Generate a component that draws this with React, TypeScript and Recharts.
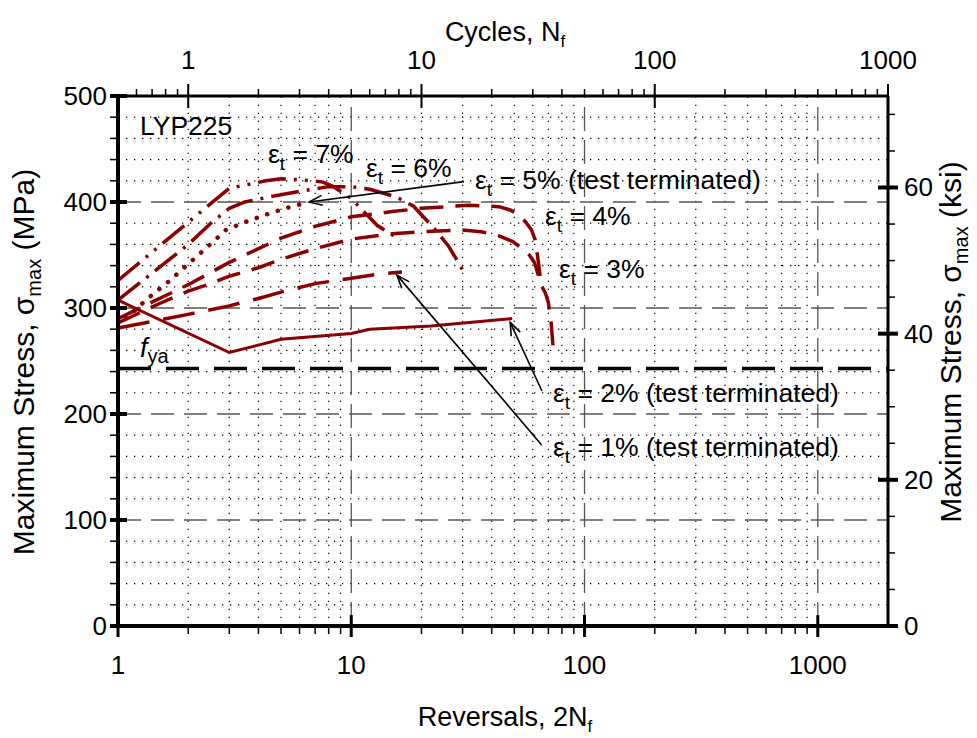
import { ComposedChart, Line, XAxis, YAxis, ReferenceLine } from 'recharts'

const FONT = '"Liberation Sans", Arial, Helvetica, sans-serif'
const RED = '#8b0000'
const MPA_PER_KSI = 6.894757

// maximum stress (MPa) against reversals 2Nf, one list per strain amplitude
const strain1: [number, number][] = [[1, 281], [2, 294], [3, 302], [4, 309], [5, 315], [7, 323], [10, 328], [13, 332], [16.5, 334]]
const strain2: [number, number][] = [[1, 307.5], [3, 258], [5, 270.5], [10, 276], [12, 280], [22, 283], [49, 290]]
const strain3: [number, number][] = [
  [1, 286], [1.5, 304], [2, 316], [2.5, 323], [3, 330], [4, 338], [5, 346], [7, 356], [10, 365], [15, 370], [20, 372],
  [30, 373.5], [36, 372], [43, 368], [49, 363], [54, 356], [58, 350], [61, 343], [63, 333], [65, 322], [68, 314], [70, 305],
  [72, 285], [73.5, 260],
]
const strain4: [number, number][] = [
  [1, 290], [2, 322], [3, 343], [5, 366], [7, 377], [10, 386], [15, 391], [20, 394], [32, 397], [43, 395.6], [48, 392.5],
  [52, 388], [56, 381], [59.3, 373.6], [61.5, 364], [63, 348], [64.5, 330],
]
const strain5: [number, number][] = [
  [1, 283], [1.34, 309], [1.64, 324.5], [2, 341.5], [2.4, 357], [2.9, 373.6], [3.5, 381], [4.3, 388], [5.2, 394], [6.6, 400],
]
const strain6: [number, number][] = [
  [1, 307.5], [1.5, 338], [2, 360], [2.5, 380], [3, 394], [3.5, 400], [4.5, 405], [6, 410], [8, 414.5], [10, 414.5],
  [12, 412], [15.5, 405], [18.5, 396], [22.7, 375], [26.2, 358], [30.4, 334],
]
const strain7: [number, number][] = [
  [1, 326], [3, 413], [3.5, 416], [4.3, 420], [5, 422], [6, 421], [7.5, 419], [8.3, 415], [10, 403.5], [10.8, 395.6],
  [11.7, 387.7], [12.9, 378], [16.3, 364],
]

// actual yield stress of LYP225
const FYA = 243

// annotation arrows: [tail, head] in (reversals, MPa)
const arrow5: [number, number][] = [[30.4, 419.2], [6.6, 400]]
const arrow2: [number, number][] = [[65.7, 221.7], [48, 286.5]]
const arrow1: [number, number][] = [[65.5, 170.8], [15.7, 331]]

// axis ticks
const revMajor = [1, 10, 100, 1000]
const revMinor = [2, 3, 4, 5, 6, 7, 8, 9, 20, 30, 40, 50, 60, 70, 80, 90, 200, 300, 400, 500, 600, 700, 800, 900]
const cycMajor = [1, 10, 100, 1000]
const cycMinor = [0.6, 0.7, 0.8, 0.9, 2, 3, 4, 5, 6, 7, 8, 9, 20, 30, 40, 50, 60, 70, 80, 90, 200, 300, 400, 500, 600, 700, 800, 900]
const cycSpan = [0.5, 1000]
const mpaMajor = [0, 100, 200, 300, 400, 500]
const mpaMinor = [20, 40, 60, 80, 120, 140, 160, 180, 220, 240, 260, 280, 320, 340, 360, 380, 420, 440, 460, 480]
const ksiMajor = [0, 20, 40, 60]
const ksiMinor = [5, 10, 15, 25, 30, 35, 45, 50, 55, 65, 70]

const pts = (rows: [number, number][]) => rows.map(([rev, mpa]) => ({ rev, mpa }))

function RevTick({ x, y, payload }: any) {
  const major = revMajor.includes(payload.value)
  return (
    <g>
      <line x1={x} x2={x} y1={major ? y - 11 : y} y2={y + (major ? 11 : 8)} stroke="#000" strokeWidth={major ? 3 : 1.5} />
      {major && (
        <text x={x} y={y + 48} textAnchor="middle" fontSize={26} fontFamily={FONT} fill="#000">
          {payload.value}
        </text>
      )}
    </g>
  )
}

function CycTick({ x, y, payload }: any) {
  const major = cycMajor.includes(payload.value)
  return (
    <g>
      <line x1={x} x2={x} y1={y - (major ? 12 : 7)} y2={major ? y + 12 : y} stroke="#000" strokeWidth={major ? 2 : 1.5} />
      {major && (
        <text x={x} y={y - 27} textAnchor="middle" fontSize={26} fontFamily={FONT} fill="#000">
          {payload.value}
        </text>
      )}
    </g>
  )
}

function MpaTick({ x, y, payload }: any) {
  const major = mpaMajor.includes(payload.value)
  return (
    <g>
      <line x1={x - 8} x2={major ? x + 9 : x} y1={y} y2={y} stroke="#000" strokeWidth={major ? 4 : 1.5} />
      {major && (
        <text x={x - 11} y={y + 9} textAnchor="end" fontSize={26} fontFamily={FONT} fill="#000">
          {payload.value}
        </text>
      )}
    </g>
  )
}

function KsiTick({ x, y, payload }: any) {
  const major = ksiMajor.includes(payload.value)
  return (
    <g>
      <line x1={major ? x - 10 : x} x2={x + (major ? 10 : 7)} y1={y} y2={y} stroke="#000" strokeWidth={major ? 4 : 1.5} />
      {major && (
        <text x={x + 16} y={y + 9} textAnchor="start" fontSize={26} fontFamily={FONT} fill="#000">
          {payload.value}
        </text>
      )}
    </g>
  )
}

// line with an open arrowhead at its second point
function ArrowShape(props: any) {
  const { x1, y1, x2, y2 } = props
  const ang = Math.atan2(y2 - y1, x2 - x1)
  const len = 14
  const spread = 0.36
  const h1 = [x2 - len * Math.cos(ang - spread), y2 - len * Math.sin(ang - spread)]
  const h2 = [x2 - len * Math.cos(ang + spread), y2 - len * Math.sin(ang + spread)]
  return (
    <g>
      <line x1={x1} y1={y1} x2={x2} y2={y2} stroke="#000" strokeWidth={1.6} />
      <polyline points={`${h1[0]},${h1[1]} ${x2},${y2} ${h2[0]},${h2[1]}`} fill="none" stroke="#000" strokeWidth={1.6} />
    </g>
  )
}

function Eps({ x, y, pct, note }: { x: number; y: number; pct: number; note?: boolean }) {
  return (
    <text x={x} y={y} fontSize={26.5} fontFamily={FONT} fill="#000">
      ε<tspan dy={7} fontSize={19}>t</tspan>
      <tspan dy={-7}>{` = ${pct}%${note ? ' (test terminated)' : ''}`}</tspan>
    </text>
  )
}

export default function App() {
  const lines = [
    { key: 'e1', data: strain1, dash: '32 14', width: 3.5, cap: 'butt' },
    { key: 'e2', data: strain2, dash: undefined, width: 3, cap: 'butt' },
    { key: 'e3', data: strain3, dash: '24 12', width: 3.5, cap: 'butt' },
    { key: 'e4', data: strain4, dash: '24 12', width: 3.5, cap: 'butt' },
    { key: 'e5', data: strain5, dash: '0.1 11', width: 4.5, cap: 'round' },
    { key: 'e6', data: strain6, dash: '28 8 3 8', width: 3.5, cap: 'butt' },
    { key: 'e7', data: strain7, dash: '28 8 3 8 3 8', width: 3.5, cap: 'butt' },
  ]

  return (
    <div style={{ position: 'absolute', left: 0, top: 0, width: 977, height: 738, background: '#fff' }}>
      <ComposedChart
        width={977}
        height={738}
        margin={{ top: 56, right: 49, bottom: 72, left: 78 }}
        style={{ fontFamily: FONT }}
      >
        <XAxis
          xAxisId="rev"
          dataKey="rev"
          type="number"
          scale="log"
          domain={[1, 2000]}
          allowDataOverflow
          ticks={[...revMajor, ...revMinor]}
          interval={0}
          tick={<RevTick />}
          tickLine={false}
          tickSize={0}
          tickMargin={0}
          height={40}
          axisLine={{ stroke: '#000', strokeWidth: 4 }}
        />
        <XAxis
          xAxisId="cyc"
          dataKey="cyc"
          orientation="top"
          type="number"
          scale="log"
          domain={[0.5, 1000]}
          allowDataOverflow
          ticks={[...cycMajor, ...cycMinor]}
          interval={0}
          tick={<CycTick />}
          tickLine={false}
          tickSize={0}
          tickMargin={0}
          height={40}
          axisLine={{ stroke: '#000', strokeWidth: 3 }}
        />
        <YAxis
          yAxisId="mpa"
          type="number"
          domain={[0, 500]}
          allowDataOverflow
          ticks={[...mpaMajor, ...mpaMinor]}
          interval={0}
          tick={<MpaTick />}
          tickLine={false}
          tickSize={0}
          tickMargin={0}
          width={40}
          axisLine={{ stroke: '#000', strokeWidth: 4 }}
        />
        <YAxis
          yAxisId="ksi"
          orientation="right"
          type="number"
          domain={[0, 500 / MPA_PER_KSI]}
          allowDataOverflow
          ticks={[...ksiMajor, ...ksiMinor]}
          interval={0}
          tick={<KsiTick />}
          tickLine={false}
          tickSize={0}
          tickMargin={0}
          width={40}
          axisLine={{ stroke: '#000', strokeWidth: 3 }}
        />

        {revMinor.map((v) => (
          <ReferenceLine key={`vx${v}`} xAxisId="rev" yAxisId="mpa" x={v} stroke="#000" strokeWidth={1.2} strokeDasharray="1.3 6.7" />
        ))}
        {mpaMinor.map((v) => (
          <ReferenceLine key={`hy${v}`} xAxisId="rev" yAxisId="mpa" y={v} stroke="#000" strokeWidth={1.2} strokeDasharray="1.3 6.7" />
        ))}
        {[10, 100, 1000].map((v) => (
          <ReferenceLine key={`VX${v}`} xAxisId="rev" yAxisId="mpa" x={v} stroke="#555" strokeWidth={1.3} strokeDasharray="24 9" />
        ))}
        {[100, 200, 300, 400].map((v) => (
          <ReferenceLine key={`HY${v}`} xAxisId="rev" yAxisId="mpa" y={v} stroke="#555" strokeWidth={1.3} strokeDasharray="23 10" />
        ))}
        <ReferenceLine xAxisId="rev" yAxisId="mpa" y={FYA} stroke="#000" strokeWidth={3.5} strokeDasharray="33 15" />

        {/* empty series that carries the cycle axis span */}
        <Line
          xAxisId="cyc"
          yAxisId="mpa"
          data={cycSpan.map((cyc) => ({ cyc }))}
          dataKey="mpa"
          stroke="none"
          dot={false}
          activeDot={false}
          legendType="none"
          isAnimationActive={false}
        />

        {lines.map((l) => (
          <Line
            key={l.key}
            xAxisId="rev"
            yAxisId="mpa"
            data={pts(l.data)}
            dataKey="mpa"
            type="linear"
            stroke={RED}
            strokeWidth={l.width}
            strokeDasharray={l.dash}
            strokeLinecap={l.cap as any}
            dot={false}
            activeDot={false}
            isAnimationActive={false}
          />
        ))}

        {[arrow5, arrow2, arrow1].map((a, i) => (
          <ReferenceLine
            key={`ar${i}`}
            xAxisId="rev"
            yAxisId="mpa"
            segment={[{ x: a[0][0], y: a[0][1] }, { x: a[1][0], y: a[1][1] }]}
            shape={ArrowShape}
          />
        ))}
      </ComposedChart>

      <svg width={977} height={738} style={{ position: 'absolute', left: 0, top: 0, pointerEvents: 'none' }}>
        <g fontFamily={FONT} fill="#000">
          <text x={140} y={135} fontSize={26.5}>LYP225</text>
          <Eps x={268} y={163} pct={7} />
          <Eps x={366} y={177} pct={6} />
          <Eps x={475} y={189} pct={5} note />
          <Eps x={545} y={225} pct={4} />
          <Eps x={559} y={278} pct={3} />
          <Eps x={553} y={402} pct={2} note />
          <Eps x={553} y={456} pct={1} note />
          <text x={140} y={357} fontSize={27} fontStyle="italic">
            f<tspan dy={6} fontSize={20} fontStyle="normal">ya</tspan>
          </text>

          <text x={505} y={41} fontSize={27} textAnchor="middle">
            Cycles, N<tspan dy={6} fontSize={17}>f</tspan>
          </text>
          <text x={505} y={726} fontSize={27} textAnchor="middle">
            Reversals, 2N<tspan dy={6} fontSize={17}>f</tspan>
          </text>
          <text transform="translate(34,362) rotate(-90)" fontSize={30} textAnchor="middle">
            Maximum Stress, σ<tspan dy={7} fontSize={20}>max</tspan>
            <tspan dy={-7}> (MPa)</tspan>
          </text>
          <text transform="translate(961,342) rotate(-90)" fontSize={30} textAnchor="middle">
            Maximum Stress, σ<tspan dy={7} fontSize={20}>max</tspan>
            <tspan dy={-7}> (ksi)</tspan>
          </text>
        </g>
      </svg>
    </div>
  )
}
